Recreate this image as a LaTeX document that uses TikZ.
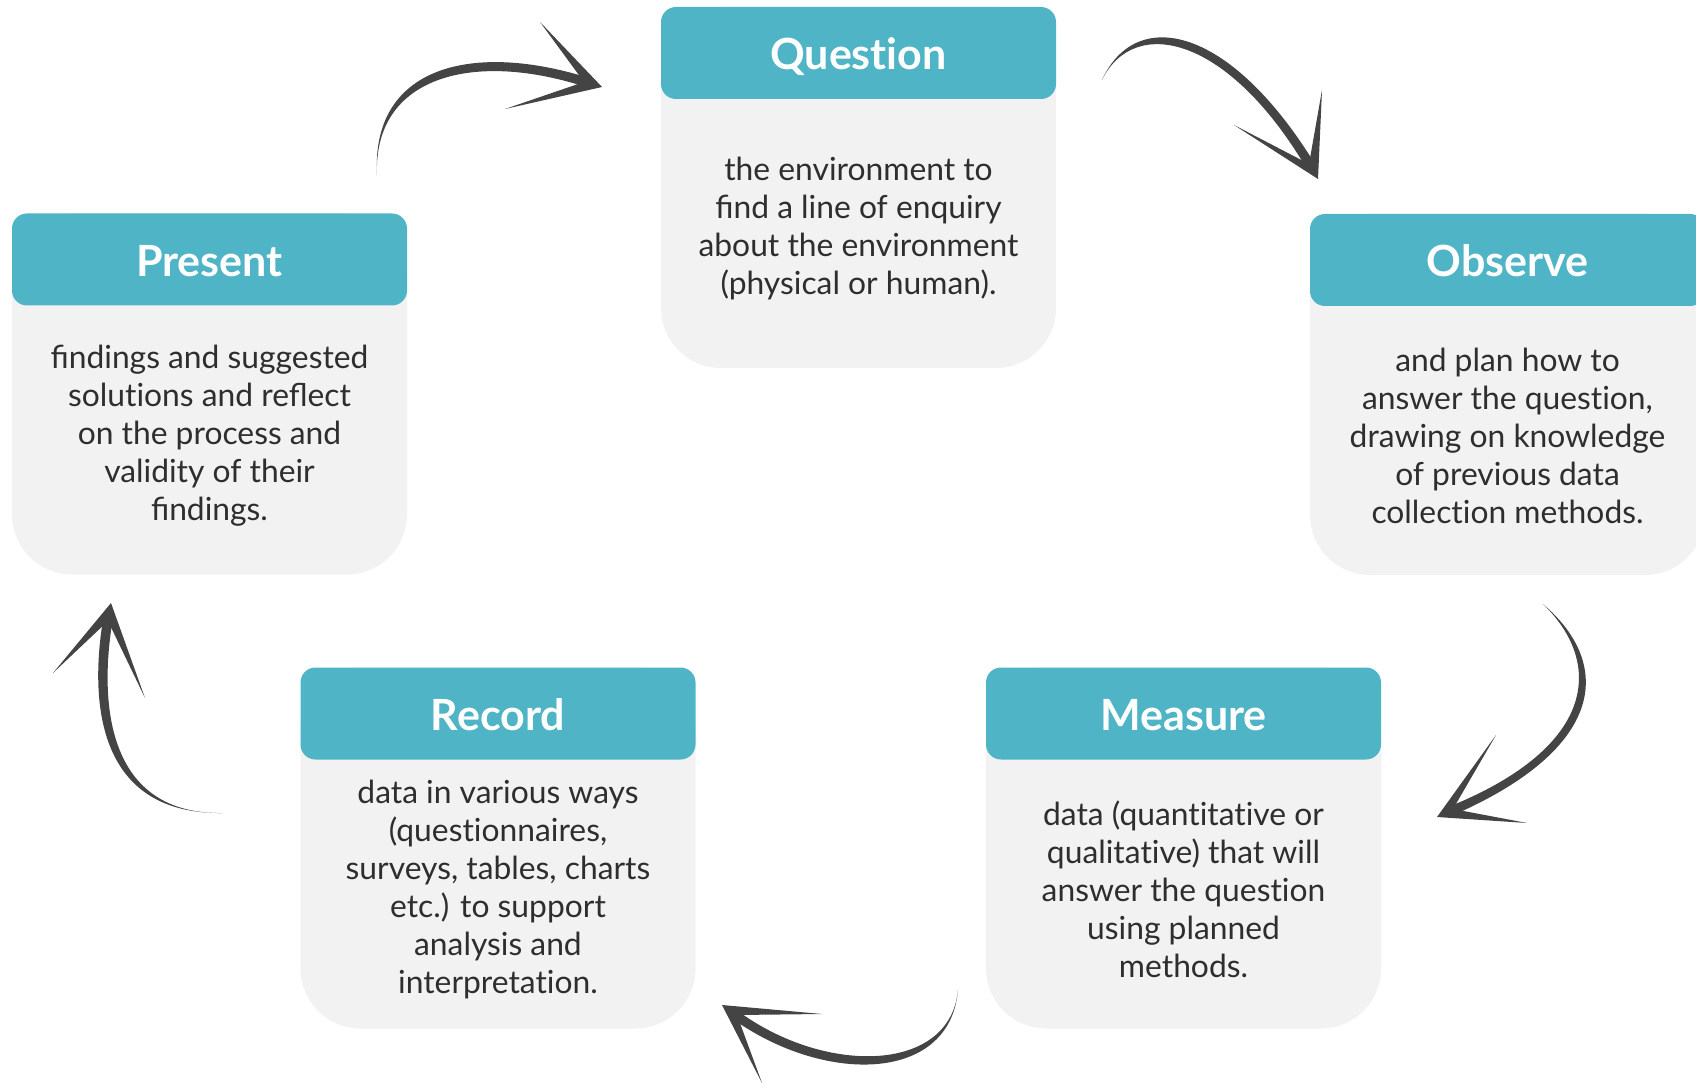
\documentclass[tikz,border=0pt]{standalone}
\usepackage{fontspec}
\setmainfont{Lato}[Ligatures=NoCommon]
\usetikzlibrary{positioning,calc}

\definecolor{headteal}{HTML}{4FB4C5}
\definecolor{cardgray}{HTML}{F2F2F2}
\definecolor{ink}{HTML}{444444}
\definecolor{textgray}{HTML}{2E2E2E}

\begin{document}
\begin{tikzpicture}[x=0.5pt,y=-0.5pt,
		stagecard/.style={fill=cardgray, rounded corners=30pt, minimum width=197.5pt, minimum height=180.5pt, inner sep=0pt},
		stagehead/.style={fill=headteal, rounded corners=7.5pt, minimum width=197.5pt, minimum height=46pt, inner sep=0pt, text height=21pt, text depth=4pt, text=white, font=\fontsize{21.5}{25}\selectfont\bfseries},
		stagetext/.style={minimum width=197.5pt, minimum height=129pt, inner sep=0pt, align=center, text=textgray, font=\fontsize{15.9}{19}\selectfont}]
		\useasboundingbox (0,0) rectangle (1696,1085);

		\node[stagecard] (question) at (858.5,187.5)  {};
		\node[stagecard] (observe)  at (1507.5,394.5) {};
		\node[stagecard] (measure)  at (1183.5,848)   {};
		\node[stagecard] (record)   at (498,848)      {};
		\node[stagecard] (present)  at (209.5,394)    {};

		\node[stagehead, below=0pt of question.north] (questionhead) {Question};
		\node[stagehead, below=0pt of observe.north]  (observehead)  {Observe};
		\node[stagehead, below=0pt of measure.north]  (measurehead)  {Measure};
		\node[stagehead, below=0pt of record.north]   (recordhead)   {Record};
		\node[stagehead, below=0pt of present.north]  (presenthead)  {Present};

		\node[stagetext, below=0pt of questionhead] (questiontext) {the environment to\\ﬁnd a line of enquiry\\about the environment\\(physical or human).};
		\node[stagetext, below=0pt of observehead]  (observetext)  {and plan how to\\answer the question,\\drawing on knowledge\\of previous data\\collection methods.};
		\node[stagetext, below=0pt of measurehead]  (measuretext)  {data (quantitative or\\qualitative) that will\\answer the question\\using planned\\methods.};
		\node[stagetext, below=0pt of recordhead]   (recordtext)   {data in various ways\\(questionnaires,\\surveys, tables, charts\\etc.) to support\\analysis and\\interpretation.};
		\node[stagetext, below=0pt of presenthead]  (presenttext)  {ﬁndings and suggested\\solutions and reﬂect\\on the process and\\validity of their\\ﬁndings.};

		% brush arrows: tail s, controls ca/cb, shaft end e, tip t, barbs l/r, notch i
		\coordinate (s1) at (377,175);   \coordinate (ca1) at (372,70);   \coordinate (cb1) at (475,45);
		\coordinate (e1) at (592,84);    \coordinate (t1) at (602,87);    \coordinate (l1) at (540,22);
		\coordinate (r1) at (505,109);   \coordinate (i1) at (584,82);

		\coordinate (s2) at (1102,80);   \coordinate (ca2) at (1135,10);  \coordinate (cb2) at (1230,30);
		\coordinate (e2) at (1313,170);  \coordinate (t2) at (1318,179);  \coordinate (l2) at (1322,90);
		\coordinate (r2) at (1234,125);  \coordinate (i2) at (1309,164);

		\coordinate (s3) at (1543,604);  \coordinate (ca3) at (1610,665); \coordinate (cb3) at (1600,750);
		\coordinate (e3) at (1446,813);  \coordinate (t3) at (1437,817);  \coordinate (l3) at (1496,735);
		\coordinate (r3) at (1527,823);  \coordinate (i3) at (1453,809);

		\coordinate (s4) at (958,990);   \coordinate (ca4) at (950,1080); \coordinate (cb4) at (820,1080);
		\coordinate (e4) at (730,1011);  \coordinate (t4) at (722,1005);  \coordinate (l4) at (822,1014);
		\coordinate (r4) at (762,1083);  \coordinate (i4) at (737,1015);

		\coordinate (s5) at (223,813);   \coordinate (ca5) at (95,815);   \coordinate (cb5) at (95,690);
		\coordinate (e5) at (109,613);   \coordinate (t5) at (111,603);   \coordinate (l5) at (53,673);
		\coordinate (r5) at (145,698);   \coordinate (i5) at (108,621);

		\foreach \k in {1,...,5}{
			\fill[ink] (s\k) .. controls ($(ca\k)!2.4pt!90:(cb\k)$) and ($(cb\k)!2.4pt!-90:(ca\k)$) .. ($(e\k)!2.4pt!-90:(cb\k)$)
				-- ($(e\k)!2.4pt!90:(cb\k)$) .. controls ($(cb\k)!2.4pt!90:(ca\k)$) and ($(ca\k)!2.4pt!-90:(cb\k)$) .. (s\k) -- cycle;
			\fill[ink] (t\k) -- (l\k) -- (i\k) -- (r\k) -- cycle;
		}
	\end{tikzpicture}
\end{document}
